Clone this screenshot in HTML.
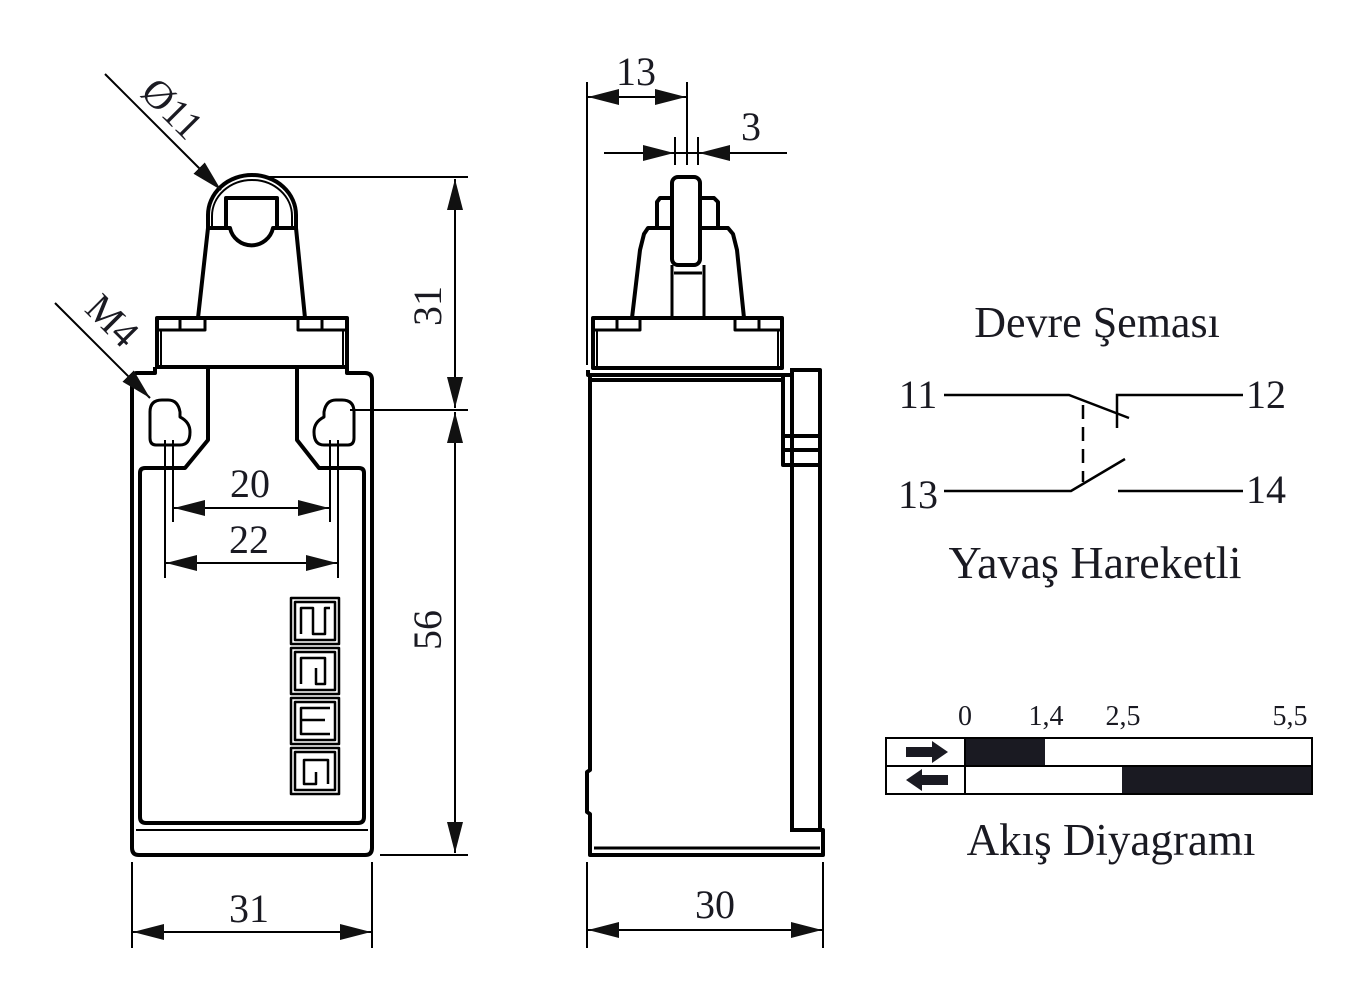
<!DOCTYPE html>
<html><head><meta charset="utf-8"><style>
html,body{margin:0;padding:0;background:#fff;}
svg{display:block;}
text{font-family:"Liberation Serif","DejaVu Serif",serif;fill:#1a1a22;}
</style></head><body>
<svg width="1368" height="1004" viewBox="0 0 1368 1004" xmlns="http://www.w3.org/2000/svg">
<defs>
<marker id="a" markerUnits="userSpaceOnUse" markerWidth="32" markerHeight="16" refX="31" refY="8" orient="auto-start-reverse" viewBox="0 0 32 16"><path d="M0,0 L31,8 L0,16 Z" fill="#111"/></marker>
</defs>
<g stroke="#000" fill="none" stroke-width="4" stroke-linejoin="round">
<path d="M208,228 L208,215 A44,40 0 0 1 296,215 L296,228" />
<path d="M212,228 L212,216 A40,36 0 0 1 292,216 L292,228" stroke-width="2"/>
<path d="M226,228 L226,198 L277,198 L277,228"/>
<path d="M208,228 L230,228 A22,22 0 0 0 273,228 L296,228" />
<path d="M208,228 L198,318 M296,228 L305,318"/>
<rect x="157" y="318" width="190" height="49"/>
<path d="M157,330 L205,330 L205,318 M180,318 L180,330 M347,330 L298,330 L298,318 M322,318 L322,330" stroke-width="3"/>
<path d="M161,330 L161,367 M343,330 L343,367" stroke-width="2"/>
<path d="M155,367 L155,373 L137,373 Q132,373 132,380 L132,848 Q132,855 139,855 L365,855 Q372,855 372,848 L372,380 Q372,373 365,373 L347,373 L347,367"/>
<path d="M208,367 L208,440 L185,468 L145,468 Q140,468 140,473 L140,817 Q140,823 146,823 L358,823 Q364,823 364,817 L364,473 Q364,468 359,468 L319,468 L297,440 L297,367"/>
<path d="M136,830 L368,830" stroke-width="2"/>
<path d="M150,412 Q150,400 162,400 L168,400 Q178,400 180,412 L180,417 Q190,422 190,432 Q190,445 180,445 L156,445 Q150,445 150,438 Z" stroke-width="3"/>
<path d="M354,412 Q354,400 342,400 L336,400 Q326,400 324,412 L324,417 Q314,422 314,432 Q314,445 324,445 L348,445 Q354,445 354,438 Z" stroke-width="3"/>
<g stroke-width="2.5">
<rect x="291" y="598" width="48" height="46"/><rect x="295" y="602" width="40" height="38"/>
<path d="M301,634 L301,608 L313,608 L313,634 L325,634 L325,608 L330,608"/>
<rect x="291" y="648" width="48" height="46"/><rect x="295" y="652" width="40" height="38"/>
<path d="M301,684 L301,658 L325,658 L325,684 L316,684 L316,668"/>
<rect x="291" y="698" width="48" height="46"/><rect x="295" y="702" width="40" height="38"/>
<path d="M330,708 L301,708 L301,720 L325,720 M301,720 L301,734 L330,734"/>
<rect x="291" y="748" width="48" height="46"/><rect x="295" y="752" width="40" height="38"/>
<path d="M316,772 L316,784 L304,784 L304,760 L328,760 L328,784"/>
</g>
<rect x="672" y="177" width="28" height="88" rx="6"/>
<path d="M672,198 L660,198 L657,202 L657,228 M700,198 L714,198 L718,202 L718,228"/>
<path d="M672,228 L648,228 L644,234 L640,250 L632,318 M700,228 L728,228 L733,234 L737,250 L744,318"/>
<path d="M672,265 L672,318 M704,265 L704,318 M674,273 L702,273" stroke-width="3"/>
<rect x="593" y="318" width="189" height="50"/>
<path d="M593,330 L640,330 L640,318 M617,318 L617,330 M782,330 L735,330 L735,318 M759,318 L759,330" stroke-width="3"/>
<path d="M597,330 L597,368 M778,330 L778,368" stroke-width="2"/>
<path d="M588,370 L588,375 L790,375 M590,380 L782,380"/>
<path d="M590,375 L590,770 L587,772 L587,812 L590,814 L590,855 L823,855 L823,830 L790,830"/>
<path d="M783,375 L783,465 L820,465 M783,450 L820,450 M783,436 L820,436"/>
<path d="M790,370 L820,370 L820,830 M792,370 L792,830 M783,380 L783,465" stroke-width="4"/>
<path d="M594,848 L820,848" stroke-width="3"/>
</g>
<g stroke="#000" stroke-width="2" fill="none">
<path d="M265,177 L468,177 M350,410 L468,410 M380,855 L468,855"/>
<path d="M455,179 L455,408" marker-start="url(#a)" marker-end="url(#a)"/>
<path d="M455,412 L455,853" marker-start="url(#a)" marker-end="url(#a)"/>
<path d="M165,440 L165,578 M173,440 L173,522 M330,440 L330,522 M338,440 L338,578"/>
<path d="M174,508 L329,508" marker-start="url(#a)" marker-end="url(#a)"/>
<path d="M166,563 L337,563" marker-start="url(#a)" marker-end="url(#a)"/>
<path d="M132,862 L132,948 M372,862 L372,948"/>
<path d="M133,932 L371,932" marker-start="url(#a)" marker-end="url(#a)"/>
<path d="M587,862 L587,948 M823,862 L823,948"/>
<path d="M588,930 L822,930" marker-start="url(#a)" marker-end="url(#a)"/>
<path d="M105,74 L221,190" marker-end="url(#a)"/>
<path d="M55,303 L150,398" marker-end="url(#a)"/>
<path d="M587,82 L587,365 M687,82 L687,165 M675,137 L675,165 M698,137 L698,165"/>
<path d="M588,97 L686,97" marker-start="url(#a)" marker-end="url(#a)"/>
<path d="M604,153 L674,153" marker-end="url(#a)"/>
<path d="M787,153 L699,153" marker-end="url(#a)"/>
<path d="M675,153 L698,153"/>
</g>
<g font-size="40">
<text x="250" y="497" text-anchor="middle">20</text>
<text x="249" y="553" text-anchor="middle">22</text>
<text x="249" y="922" text-anchor="middle">31</text>
<text x="715" y="918" text-anchor="middle">30</text>
<text x="636" y="85" text-anchor="middle">13</text>
<text x="751" y="140" text-anchor="middle">3</text>
<text transform="translate(441,306) rotate(-90)" text-anchor="middle">31</text>
<text transform="translate(441,630) rotate(-90)" text-anchor="middle">56</text>
<text transform="translate(163,118) rotate(45)" text-anchor="middle">Ø11</text>
<text transform="translate(103,330) rotate(45)" text-anchor="middle">M4</text>
<text x="918" y="408" text-anchor="middle">11</text>
<text x="1266" y="408" text-anchor="middle">12</text>
<text x="918" y="508" text-anchor="middle">13</text>
<text x="1266" y="503" text-anchor="middle">14</text>
</g>
<text x="1097" y="337" text-anchor="middle" font-size="44">Devre Şeması</text>
<text x="1095" y="578" text-anchor="middle" font-size="46">Yavaş Hareketli</text>
<text x="1111" y="855" text-anchor="middle" font-size="45">Akış Diyagramı</text>
<g stroke="#000" stroke-width="2.5" fill="none">
<path d="M944,395 L1069,395 L1129,418"/>
<path d="M1117,428 L1117,395 L1243,395"/>
<path d="M1083,405 L1083,482" stroke-dasharray="14,8"/>
<path d="M944,491 L1071,491 L1125,459"/>
<path d="M1118,491 L1243,491"/>
</g>
<g font-size="28">
<text x="965" y="725" text-anchor="middle">0</text>
<text x="1046" y="725" text-anchor="middle">1,4</text>
<text x="1123" y="725" text-anchor="middle">2,5</text>
<text x="1290" y="725" text-anchor="middle">5,5</text>
</g>
<rect x="965" y="738" width="80" height="28" fill="#1a1a22"/>
<rect x="1122" y="766" width="190" height="28" fill="#1a1a22"/>
<g stroke="#000" stroke-width="2" fill="none">
<rect x="886" y="738" width="426" height="56"/>
<path d="M886,766 L1312,766 M965,738 L965,794"/>
</g>
<path d="M906,747 L932,747 L932,741 L948,752 L932,763 L932,757 L906,757 Z" fill="#1a1a22"/>
<path d="M948,775 L922,775 L922,769 L906,780 L922,791 L922,785 L948,785 Z" fill="#1a1a22"/>
</svg>
</body></html>
